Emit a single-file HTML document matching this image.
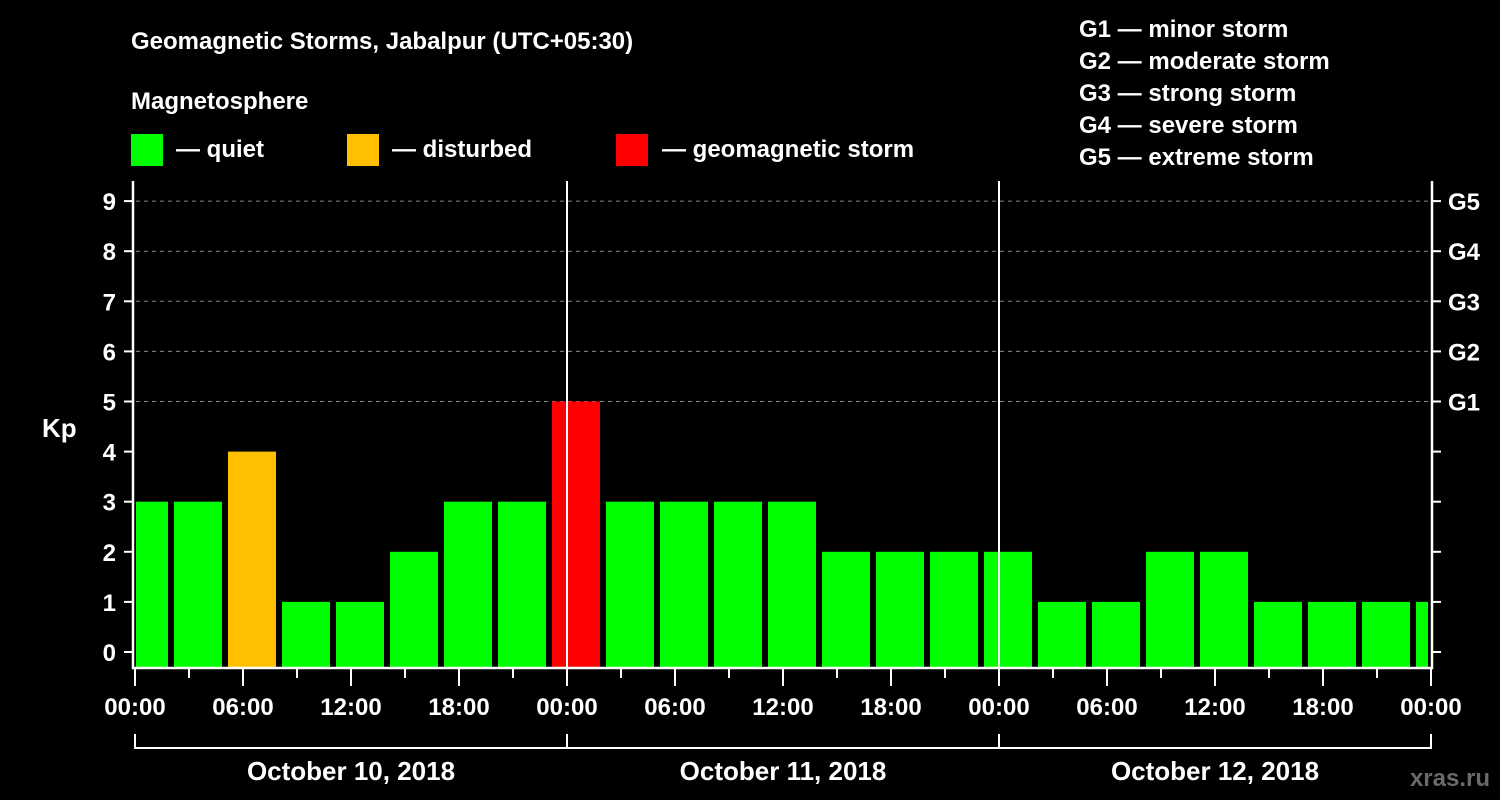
<!DOCTYPE html>
<html><head><meta charset="utf-8"><style>
html,body{margin:0;padding:0;background:#000;width:1500px;height:800px;overflow:hidden}
svg text{font-family:"Liberation Sans",Arial,sans-serif;font-weight:bold;fill:#fff}
</style></head><body>
<svg id="chart" width="1500" height="800" xmlns="http://www.w3.org/2000/svg">
<text x="131" y="49" font-size="24">Geomagnetic Storms, Jabalpur (UTC+05:30)</text>
<text x="131" y="109" font-size="24">Magnetosphere</text>
<g><rect x="131" y="134" width="32" height="32" fill="#00ff00"/><text x="176" y="157" font-size="24">— quiet</text></g>
<g><rect x="347" y="134" width="32" height="32" fill="#ffc000"/><text x="392" y="157" font-size="24">— disturbed</text></g>
<g><rect x="616" y="134" width="32" height="32" fill="#ff0000"/><text x="662" y="157" font-size="24">— geomagnetic storm</text></g>
<g font-size="24">
<text x="1079" y="37">G1 — minor storm</text>
<text x="1079" y="69">G2 — moderate storm</text>
<text x="1079" y="101">G3 — strong storm</text>
<text x="1079" y="133">G4 — severe storm</text>
<text x="1079" y="165">G5 — extreme storm</text>
</g>
<text x="42" y="437" font-size="26">Kp</text>
<text x="1490" y="786" font-size="24" text-anchor="end" fill="#777" style="fill:#6a6a6a">xras.ru</text>
<defs><clipPath id="pc"><rect x="136" y="183" width="1292" height="485"/></clipPath></defs>
<g id="grid"></g>
<g id="bars" clip-path="url(#pc)"></g>
<g id="axes"></g>
</svg>
<script>
const kpValues=[3,3,4,1,1,2,3,3,5,3,3,3,3,2,2,2,2,1,1,2,2,1,1,1,1];
const yTicks=[0,1,2,3,4,5,6,7,8,9];
const gLabels=["G1","G2","G3","G4","G5"];
const xTickLabels=["00:00","06:00","12:00","18:00","00:00","06:00","12:00","18:00","00:00","06:00","12:00","18:00","00:00"];
const dayLabels=["October 10, 2018","October 11, 2018","October 12, 2018"];
const NS="http://www.w3.org/2000/svg";
const X0=135,PXH=18,Y0=652,PXK=50.1,BOT=668;
const xs=h=>X0+h*PXH, ys=k=>Y0-k*PXK;
function mk(t,a,p){const e=document.createElementNS(NS,t);for(const k in a)e.setAttribute(k,a[k]);p.appendChild(e);return e;}
const grid=document.getElementById('grid'),bars=document.getElementById('bars'),axes=document.getElementById('axes');
[5,6,7,8,9].forEach(k=>{const l=mk('line',{x1:136,x2:1432,y1:ys(k),y2:ys(k),stroke:'#888','stroke-dasharray':'4,4','stroke-width':1},grid);

});
kpValues.forEach((v,i)=>{const start=-1+3*i;const x=xs(start)+3,w=3*PXH-6;
const c=v>=5?'#ff0000':(v>=4?'#ffc000':'#00ff00');
const r=mk('rect',{x:x,y:ys(v),width:w,height:BOT-ys(v),fill:c},bars);

});
// day separators
[1,2].forEach(d=>{const l=mk('line',{x1:xs(24*d),x2:xs(24*d),y1:181,y2:668,stroke:'#fff','stroke-width':2},axes);

});
// frame
const f=mk('path',{d:'M133 181 V668 H1432 V181',fill:'none',stroke:'#fff','stroke-width':2.5},axes);


yTicks.forEach(k=>{const y=ys(k);
mk('line',{x1:124,x2:133,y1:y,y2:y,stroke:'#fff','stroke-width':2},axes);
mk('line',{x1:1432,x2:1441,y1:y,y2:y,stroke:'#fff','stroke-width':2},axes);
const t=mk('text',{x:116,y:y+9,'font-size':24,'text-anchor':'end'},axes);t.textContent=k;

});
gLabels.forEach((g,i)=>{const t=mk('text',{x:1448,y:ys(5+i)+9,'font-size':24},axes);t.textContent=g;

});
for(let h=0;h<=72;h+=3){const big=h%6===0;mk('line',{x1:xs(h),x2:xs(h),y1:668,y2:big?686:678,stroke:'#fff','stroke-width':2},axes);}
xTickLabels.forEach((s,i)=>{const t=mk('text',{x:xs(6*i),y:715,'font-size':24,'text-anchor':'middle'},axes);t.textContent=s;

});
mk('path',{d:`M${xs(0)} 734 V748 H${xs(72)} V734 M${xs(24)} 734 V748 M${xs(48)} 734 V748`,fill:'none',stroke:'#fff','stroke-width':2},axes);
dayLabels.forEach((s,i)=>{const t=mk('text',{x:xs(24*i+12),y:780,'font-size':26,'text-anchor':'middle'},axes);t.textContent=s;

});
</script>
</body></html>
